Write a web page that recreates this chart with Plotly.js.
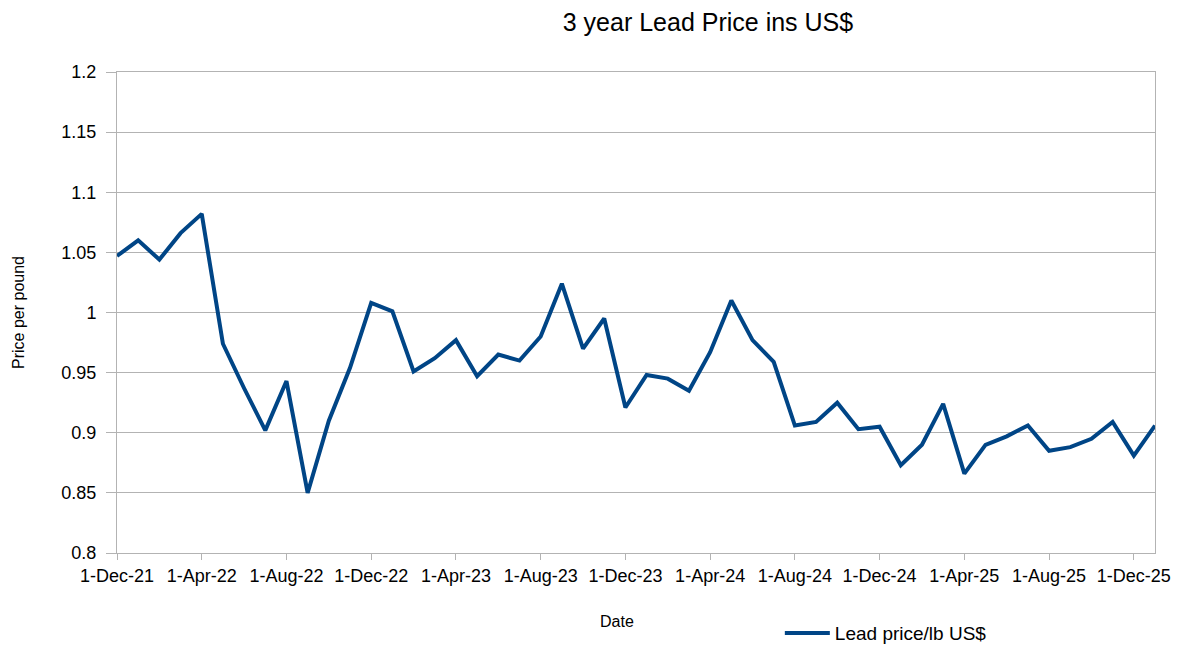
<!DOCTYPE html>
<html>
<head>
<meta charset="utf-8">
<script src="https://cdn.plot.ly/plotly-3.0.1.min.js"></script>
<style>html,body{margin:0;padding:0;background:#fff;}#chart{width:1178px;height:646px;}</style>
</head>
<body>
<div id="chart"></div>
<script>
const months = [
  "1-Dec-21","1-Jan-22","1-Feb-22","1-Mar-22","1-Apr-22","1-May-22","1-Jun-22","1-Jul-22","1-Aug-22","1-Sep-22","1-Oct-22","1-Nov-22",
  "1-Dec-22","1-Jan-23","1-Feb-23","1-Mar-23","1-Apr-23","1-May-23","1-Jun-23","1-Jul-23","1-Aug-23","1-Sep-23","1-Oct-23","1-Nov-23",
  "1-Dec-23","1-Jan-24","1-Feb-24","1-Mar-24","1-Apr-24","1-May-24","1-Jun-24","1-Jul-24","1-Aug-24","1-Sep-24","1-Oct-24","1-Nov-24",
  "1-Dec-24","1-Jan-25","1-Feb-25","1-Mar-25","1-Apr-25","1-May-25","1-Jun-25","1-Jul-25","1-Aug-25","1-Sep-25","1-Oct-25","1-Nov-25",
  "1-Dec-25","1-Jan-26"
];
const leadPrice = [
  1.047,1.060,1.044,1.066,1.082,0.974,0.937,0.902,0.943,0.850,0.910,0.954,
  1.008,1.001,0.951,0.962,0.977,0.947,0.965,0.960,0.980,1.024,0.970,0.995,
  0.921,0.948,0.945,0.935,0.967,1.010,0.977,0.959,0.906,0.909,0.925,0.903,
  0.905,0.873,0.890,0.924,0.866,0.890,0.897,0.906,0.885,0.888,0.895,0.909,
  0.881,0.906
];
const xTickLabels = ["1-Dec-21","1-Apr-22","1-Aug-22","1-Dec-22","1-Apr-23","1-Aug-23","1-Dec-23","1-Apr-24","1-Aug-24","1-Dec-24","1-Apr-25","1-Aug-25","1-Dec-25"];
const yTicks = [0.8,0.85,0.9,0.95,1,1.05,1.1,1.15,1.2];
const xTitle = "Date";

const font = "Liberation Sans, Arial, sans-serif";
const trace = {
  x: months, y: leadPrice, type: "scatter", mode: "lines",
  name: "Lead price/lb US$",
  line: {color: "#004586", width: 4}
};
const layout = {
  width: 1178, height: 646,
  paper_bgcolor: "#fff", plot_bgcolor: "#fff",
  margin: {l: 117, r: 23, t: 72, b: 93},
  font: {family: font, color: "#000"},
  title: {text: "3 year Lead Price ins US$", font: {family: font, size: 25, color: "#000"}, x: 0.601, xanchor: "center", y: 0.965, yanchor: "middle"},
  xaxis: {
    type: "category", range: [0, months.length - 1],
    tickvals: xTickLabels, ticktext: xTickLabels,
    ticks: "outside", ticklen: 6, tickcolor: "#b3b3b3",
    showgrid: false, showline: true, linecolor: "#b3b3b3", linewidth: 1, mirror: true,
    tickfont: {size: 18, color: "#000"},
    zeroline: false, automargin: false
  },
  yaxis: {
    range: [0.8, 1.2], tickvals: yTicks,
    ticktext: yTicks.map(v => String(v)),
    ticks: "outside", ticklen: 10, tickcolor: "#b3b3b3",
    ticklabelstandoff: 6,
    showgrid: true, gridcolor: "#b3b3b3", gridwidth: 1,
    showline: true, linecolor: "#b3b3b3", linewidth: 1, mirror: true,
    tickfont: {size: 18, color: "#000"},
    title: {text: "Price per pound", font: {size: 16, color: "#000"}, standoff: 32},
    zeroline: false, automargin: false
  },
  annotations: [{
    text: xTitle, xref: "paper", yref: "paper", x: 0.4817, y: -0.1414,
    xanchor: "center", yanchor: "middle", showarrow: false,
    font: {family: font, size: 16, color: "#000"}
  }],
  showlegend: true,
  legend: {xref: "container", yref: "container", x: 0.662, xanchor: "left", y: 0.02, yanchor: "middle", orientation: "h", itemwidth: 45, font: {size: 19, color: "#000"}, bgcolor: "rgba(0,0,0,0)"}
};
Plotly.newPlot("chart", [trace], layout, {displayModeBar: false, staticPlot: true});
</script>
</body>
</html>
